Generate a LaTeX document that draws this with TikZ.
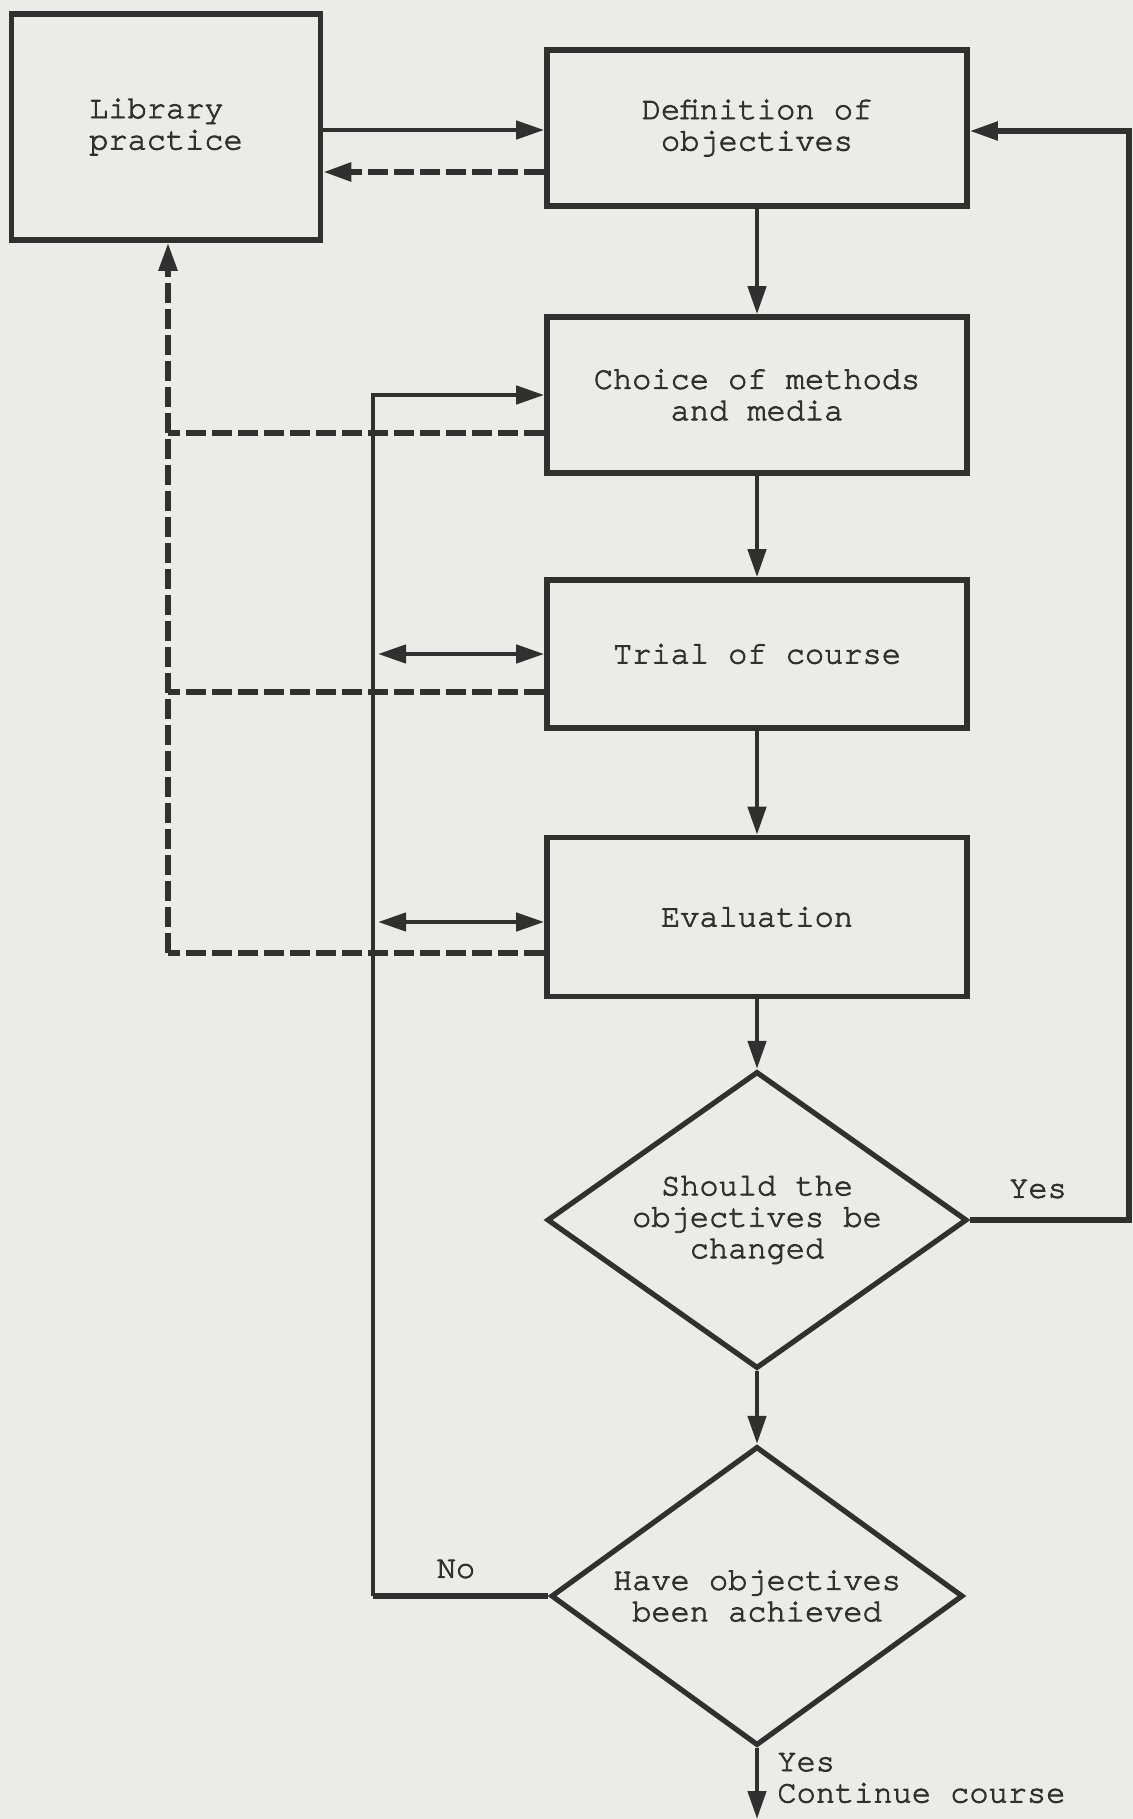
\documentclass[tikz,border=0pt]{standalone}
\usepackage{fontspec}
\newfontfamily\tw[FakeBold=2.5]{TeX Gyre Cursor}
\usetikzlibrary{arrows.meta,shapes.geometric,calc}
\definecolor{ink}{HTML}{303030}
\definecolor{paper}{HTML}{EBEBE9}
\begin{document}
\begin{tikzpicture}[x=0.5pt,y=-0.5pt,
  every node/.style={font=\tw\fontsize{16}{15.7}\selectfont, text=ink},
  box/.style={draw=ink, line width=2.8pt, rectangle, inner sep=0pt, align=center},
  dec/.style={draw=ink, line width=2.6pt, diamond, aspect=1.4, inner sep=0pt, align=center},
  >={Triangle[length=14pt,width=9pt]},
  conn/.style={draw=ink, line width=2.2pt},
  dconn/.style={draw=ink, line width=2.8pt, dash pattern=on 10pt off 3pt},
  lab/.style={inner sep=0pt}
]
\fill[paper] (0,0) rectangle (1133,1819);
\useasboundingbox (0,0) rectangle (1133,1819);

% nodes
\node[box, minimum width=154.5pt, minimum height=113pt, align=left] (lib) at (166,127) {Library\\practice};
\node[box, minimum width=210pt, minimum height=78pt] (def) at (757,128) {Definition of\\objectives};
\node[box, minimum width=210pt, minimum height=78pt] (cho) at (757,395) {Choice of methods\\and media};
\node[box, minimum width=210pt, minimum height=74pt] (tri) at (757,654) {Trial of course};
\node[box, minimum width=210pt, minimum height=79.5pt] (eva) at (757,917) {Evaluation};
\node[dec, minimum width=210pt, minimum height=148.5pt] (d1) at (757,1220) {Should the\\objectives be\\changed};
\node[dec, minimum width=206pt, minimum height=149.5pt] (d2) at (757,1596) {Have objectives\\been achieved};

% labels
\node[lab] (yes1) at (1038,1189) {Yes};
\node[lab] (no) at (456,1569) {No};
\node[lab, anchor=west, align=left] (cont) at (777,1778) {Yes\\Continue course};

% helper coordinates
\coordinate (rx) at (1129,0);
\coordinate (lx) at (373,0);
\coordinate (dx) at (168,0);
\coordinate (fin) at (757,1819);

% main column
\draw[conn,->] (def.south) -- (cho.north);
\draw[conn,->] (cho.south) -- (tri.north);
\draw[conn,->] (tri.south) -- (eva.north);
\draw[conn,->] (eva.south) -- (d1.north);
\draw[conn,->] (d1.south) -- (d2.north);
\draw[conn,->] (d2.south) -- (fin);

% library <-> definition
\draw[conn,->] ([yshift=-1.5pt]lib.east) -- ([yshift=-1.5pt]lib.east -| def.west);
\draw[dconn,->] ([yshift=-22pt]def.west) -- ([yshift=-22pt]def.west -| lib.east);

% yes loop on the right
\draw[conn,line width=2.6pt,->] (d1.east) -- (d1.east -| rx) -- ([yshift=-1.5pt]def.east -| rx) -- ([yshift=-1.5pt]def.east);

% no loop on the left
\draw[conn,line width=2.6pt] (d2.west) -- (d2.west -| lx);
\draw[conn,->] (d2.west -| lx) -- (cho.west -| lx) -- (cho.west);
\draw[conn,<->] ([xshift=2.5pt]tri.west -| lx) -- (tri.west);
\draw[conn,<->] ([xshift=2.5pt,yshift=-2.5pt]eva.west -| lx) -- ([yshift=-2.5pt]eva.west);

% dashed feedback to library practice
\draw[dconn] ([yshift=-19pt]cho.west) -- ([yshift=-19pt]cho.west -| dx);
\draw[dconn] ([yshift=-19pt]tri.west) -- ([yshift=-19pt]tri.west -| dx);
\draw[dconn] ([yshift=-18pt]eva.west) -- ([yshift=-18pt]eva.west -| dx);
\draw[dconn,->] ([yshift=-18pt]eva.west -| dx) -- (lib.south -| dx);
\end{tikzpicture}
\end{document}
